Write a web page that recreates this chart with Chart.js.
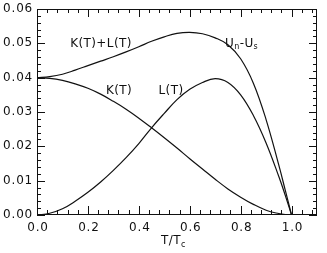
<!DOCTYPE html>
<html><head><meta charset="utf-8">
<script src="https://cdn.jsdelivr.net/npm/chart.js@4/dist/chart.umd.min.js"></script>
<style>html,body{margin:0;padding:0;background:#fff}#wrap{width:327px;height:253px}</style>
</head><body><div id="wrap"><canvas id="c" width="327" height="253"></canvas></div>
<script>
const T = [0,0.05,0.10,0.15,0.20,0.25,0.30,0.35,0.40,0.45,0.50,0.55,0.60,0.65,0.70,0.75,0.80,0.85,0.90,0.95,0.975,1.00];
const K = [0.0400,0.0398,0.0392,0.0382,0.0369,0.0352,0.0331,0.0308,0.0282,0.0254,0.0225,0.0195,0.0164,0.0134,0.0104,0.0076,0.0052,0.0031,0.0014,0.0004,0.0001,0.0000];
const L = [0,0.0005,0.0018,0.0040,0.0066,0.0096,0.0130,0.0167,0.0208,0.0254,0.0296,0.0336,0.0366,0.0386,0.0397,0.0386,0.0350,0.0290,0.0210,0.0112,0.0058,0.0];
const SUM = [0.0400,0.0403,0.0410,0.0422,0.0435,0.0448,0.0461,0.0475,0.0490,0.0506,0.0519,0.0529,0.0532,0.0528,0.0516,0.0496,0.0455,0.0384,0.0278,0.0145,0.0073,0.0];
const xTicks = [0.0,0.2,0.4,0.6,0.8,1.0];
const yTicks = [0.00,0.01,0.02,0.03,0.04,0.05,0.06];

const pts = a => T.map((t,i)=>({x:t,y:a[i]}));
const ds = a => ({data:pts(a),borderColor:'#111',borderWidth:1.2,pointRadius:0,fill:false,tension:0.4});
const FONT = '"DejaVu Sans", sans-serif';

const deco = {
  id:'deco',
  afterDraw(chart){
    const ctx = chart.ctx, a = chart.chartArea, xs = chart.scales.x, ys = chart.scales.y;
    ctx.save();
    ctx.fillStyle='#111';
    const L0=Math.round(a.left), R0=Math.round(a.right)-1, B0=Math.round(a.bottom)-1, T0=Math.round(a.top);
    ctx.fillRect(L0,T0,R0-L0+1,1);
    ctx.fillRect(L0,B0,R0-L0+1,1);
    ctx.fillRect(L0,T0,1,B0-T0+1);
    ctx.fillRect(R0,T0,1,B0-T0+1);
    for(let i=0;i<=27;i++){
      const px=Math.round(xs.getPixelForValue(i*0.04));
      const len = (i%5===0)?8:4;
      ctx.fillRect(px,B0-len,1,len);
      ctx.fillRect(px,T0,1,len);
    }
    for(let i=0;i<=30;i++){
      const py=Math.round(ys.getPixelForValue(i*0.002));
      const len = (i%5===0)?8:4;
      ctx.fillRect(L0,py,len,1);
      ctx.fillRect(R0-len+1,py,len,1);
    }
    ctx.fillStyle='#111';
    ctx.font='12px '+FONT;
    ctx.letterSpacing='0.8px';
    ctx.textBaseline='middle';
    ctx.textAlign='right';
    yTicks.forEach(v=>ctx.fillText(v.toFixed(2), a.left-4, ys.getPixelForValue(v)));
    ctx.textAlign='center';
    xTicks.forEach(v=>ctx.fillText(v.toFixed(1), xs.getPixelForValue(v)+1, a.bottom+13));
    ctx.letterSpacing='0.4px';
    ctx.font='12px '+FONT;
    ctx.textAlign='center';
    ctx.fillText('K(T)+L(T)', 101, 44);
    ctx.fillText('K(T)', 119, 91);
    ctx.fillText('L(T)', 171, 91);
    ctx.textAlign='left';
    let ux=225; const uy=44;
    ctx.fillText('U',ux,uy); ux+=ctx.measureText('U').width;
    ctx.font='8px '+FONT; ctx.fillText('n',ux,uy+3); ux+=ctx.measureText('n').width;
    ctx.font='12px '+FONT; ctx.fillText('-U',ux,uy); ux+=ctx.measureText('-U').width;
    ctx.font='8px '+FONT; ctx.fillText('s',ux,uy+3);
    ctx.font='12px '+FONT;
    let tx=161; const ty=241;
    ctx.fillText('T/T',tx,ty); tx+=ctx.measureText('T/T').width;
    ctx.font='8px '+FONT; ctx.fillText('c',tx,ty+4);
    ctx.restore();
  }
};

new Chart(document.getElementById('c'),{
  type:'line',
  data:{datasets:[ds(SUM),ds(K),ds(L)]},
  options:{
    responsive:false,animation:false,
    layout:{padding:{top:9,right:10,left:0,bottom:0}},
    plugins:{legend:{display:false},tooltip:{enabled:false}},
    scales:{
      x:{type:'linear',min:0,max:1.1,
         grid:{display:false,drawTicks:false},border:{display:false},
         ticks:{display:false},
         afterFit(s){s.height=38;}},
      y:{type:'linear',min:0,max:0.06,
         grid:{display:false,drawTicks:false},border:{display:false},
         ticks:{display:false},
         afterFit(s){s.width=37;}}
    }
  },
  plugins:[deco]
});
</script></body></html>
